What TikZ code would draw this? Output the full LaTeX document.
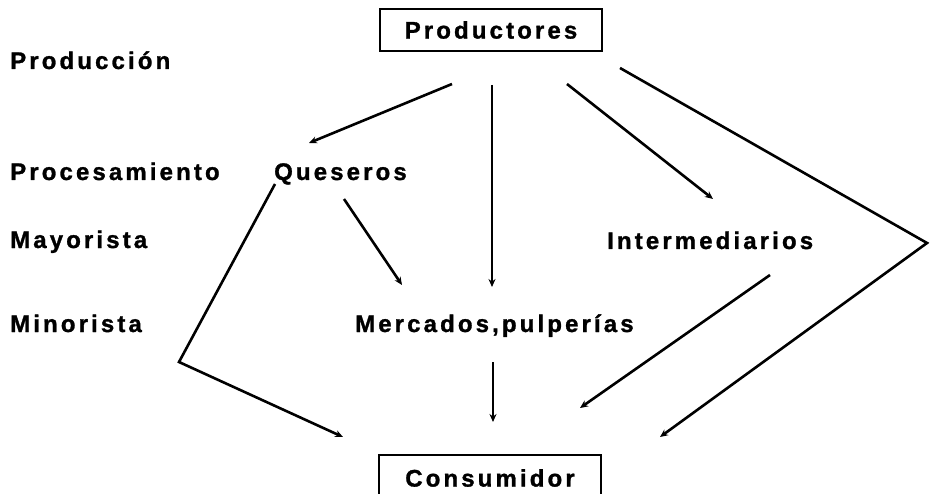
\documentclass[tikz,border=0pt]{standalone}
\usepackage{fontspec}
\setmainfont{Liberation Sans}
\newfontfamily\lblfont{Liberation Sans}[LetterSpace=13, BoldFeatures={FakeBold=1.2}]
\usepackage{tikz}
\usetikzlibrary{arrows.meta}

\begin{document}
\begin{tikzpicture}[x=1pt, y=-1pt,
    lbl/.style={inner sep=0pt, font=\lblfont\bfseries\fontsize{24}{28}\selectfont},
    boxed/.style={lbl, draw, line width=1.2pt, minimum width=222pt, minimum height=42pt},
    flow/.style={line width=2.6pt, -{Stealth[length=8pt, width=7pt]}}]

\useasboundingbox (0, 0) rectangle (931, 494);

%% Levels (left column)
\node [lbl, anchor=base west] (LVprod) at (10, 69)  {Producción};
\node [lbl, anchor=base west] (LVproc) at (10, 180) {Procesamiento};
\node [lbl, anchor=base west] (LVmay)  at (10, 248) {Mayorista};
\node [lbl, anchor=base west] (LVmin)  at (10, 332) {Minorista};

%% Actors
\node [boxed] (Prod) at (491, 30)  {Productores};
\node [lbl, anchor=base west] (Ques) at (274, 180) {Queseros};
\node [lbl, anchor=base west] (Inter) at (607, 249) {Intermediarios};
\node [lbl, anchor=base west] (Merc) at (355, 332) {Mercados,pulperías};
\node [boxed, minimum height=46pt] (Cons) at (490, 478) {Consumidor};

%% Define the connector points
% b = begin
% e = end
% c = corner
\coordinate (PQb) at (452, 84);
\coordinate (PQe) at (309, 143);
\coordinate (PMb) at (492, 85);
\coordinate (PMe) at (492, 287);
\coordinate (PIb) at (567, 84);
\coordinate (PIe) at (713, 199);
\coordinate (PCb) at (620, 68);
\coordinate (PCc) at (927, 243);
\coordinate (PCe) at (660, 437);

\coordinate (QCb) at (275, 184);
\coordinate (QCc) at (179, 362);
\coordinate (QCe) at (343, 437);
\coordinate (QMb) at (344, 199);
\coordinate (QMe) at (402, 285);

\coordinate (MCb) at (493, 362);
\coordinate (MCe) at (493, 422);
\coordinate (ICb) at (770, 275);
\coordinate (ICe) at (580, 408);

%% Draw the flows
\draw [flow] (PQb) -- (PQe);
\draw [flow] (PMb) -- (PMe);
\draw [flow] (PIb) -- (PIe);
\draw [flow] (PCb) -- (PCc) -- (PCe);

\draw [flow] (QCb) -- (QCc) -- (QCe);
\draw [flow] (QMb) -- (QMe);

\draw [flow] (MCb) -- (MCe);
\draw [flow] (ICb) -- (ICe);

\end{tikzpicture}
\end{document}
